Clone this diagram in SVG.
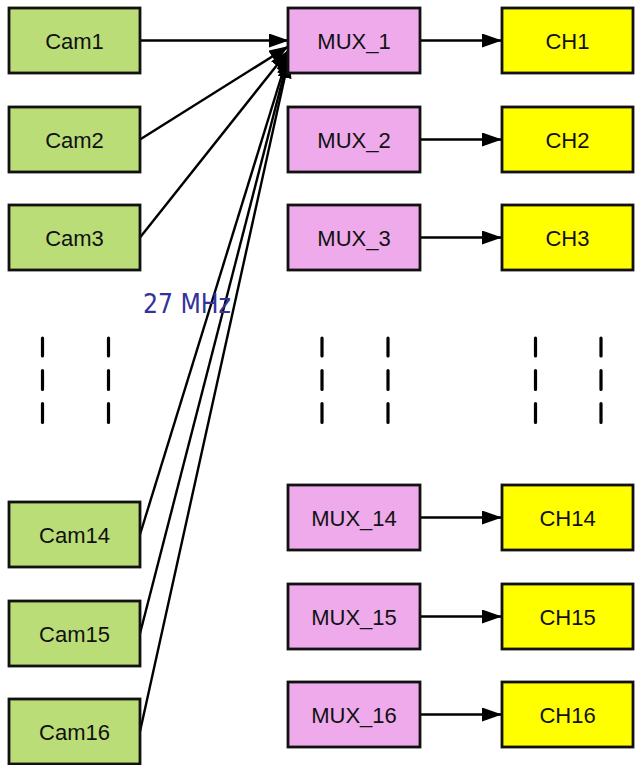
<svg xmlns="http://www.w3.org/2000/svg" width="635" height="765" viewBox="0 0 635 765">
<style>
.box{stroke:#111;stroke-width:2.8}
.cam{fill:#bbdd77}
.mux{fill:#eeaaea}
.ch{fill:#ffff00}
.lbl{font-family:"Liberation Sans",Arial,sans-serif;font-size:22px;fill:#111;text-anchor:middle}
.con{stroke:#000;stroke-width:2.4;fill:none;marker-end:url(#ah)}
.dash{stroke:#000;stroke-width:3.2;stroke-linecap:round}
.freq{font-family:"DejaVu Sans Condensed","DejaVu Sans",sans-serif;font-size:27px;fill:#333399}
</style>
<defs>
<marker id="ah" markerUnits="userSpaceOnUse" markerWidth="21" markerHeight="14" refX="20" refY="7" orient="auto">
<path d="M0,0 L20,7 L0,14 z" fill="#000"/>
</marker>
</defs>
<rect width="635" height="765" fill="#fff"/>
<g id="connectors">
<line class="con" x1="140" y1="40.5" x2="289" y2="40.5"/>
<line class="con" x1="140" y1="139.5" x2="289" y2="46"/>
<line class="con" x1="140" y1="237.5" x2="289" y2="50"/>
<line class="con" x1="140" y1="534.5" x2="289" y2="52"/>
<line class="con" x1="140" y1="633.5" x2="289" y2="55"/>
<line class="con" x1="140" y1="731.5" x2="289" y2="58"/>
<line class="con" x1="420" y1="40.5" x2="502" y2="40.5"/>
<line class="con" x1="420" y1="139.5" x2="502" y2="139.5"/>
<line class="con" x1="420" y1="237.5" x2="502" y2="237.5"/>
<line class="con" x1="420" y1="517.5" x2="502" y2="517.5"/>
<line class="con" x1="420" y1="616.5" x2="502" y2="616.5"/>
<line class="con" x1="420" y1="714.5" x2="502" y2="714.5"/>
</g>
<g id="cam1"><rect class="box cam" x="9" y="8" width="131" height="65"/><text class="lbl" x="74.5" y="48.5">Cam1</text></g>
<g id="cam2"><rect class="box cam" x="9" y="107" width="131" height="65"/><text class="lbl" x="74.5" y="147.5">Cam2</text></g>
<g id="cam3"><rect class="box cam" x="9" y="205" width="131" height="65"/><text class="lbl" x="74.5" y="245.5">Cam3</text></g>
<g id="cam14"><rect class="box cam" x="9" y="502" width="131" height="65"/><text class="lbl" x="74.5" y="542.5">Cam14</text></g>
<g id="cam15"><rect class="box cam" x="9" y="601" width="131" height="65"/><text class="lbl" x="74.5" y="641.5">Cam15</text></g>
<g id="cam16"><rect class="box cam" x="9" y="699" width="131" height="65"/><text class="lbl" x="74.5" y="739.5">Cam16</text></g>
<g id="mux1"><rect class="box mux" x="288" y="8" width="132" height="65"/><text class="lbl" x="354" y="48.5">MUX_1</text></g>
<g id="mux2"><rect class="box mux" x="288" y="107" width="132" height="65"/><text class="lbl" x="354" y="147.5">MUX_2</text></g>
<g id="mux3"><rect class="box mux" x="288" y="205" width="132" height="65"/><text class="lbl" x="354" y="245.5">MUX_3</text></g>
<g id="mux14"><rect class="box mux" x="288" y="485" width="132" height="65"/><text class="lbl" x="354" y="525.5">MUX_14</text></g>
<g id="mux15"><rect class="box mux" x="288" y="584" width="132" height="65"/><text class="lbl" x="354" y="624.5">MUX_15</text></g>
<g id="mux16"><rect class="box mux" x="288" y="682" width="132" height="65"/><text class="lbl" x="354" y="722.5">MUX_16</text></g>
<g id="ch1"><rect class="box ch" x="502" y="8" width="131" height="65"/><text class="lbl" x="567.5" y="48.5">CH1</text></g>
<g id="ch2"><rect class="box ch" x="502" y="107" width="131" height="65"/><text class="lbl" x="567.5" y="147.5">CH2</text></g>
<g id="ch3"><rect class="box ch" x="502" y="205" width="131" height="65"/><text class="lbl" x="567.5" y="245.5">CH3</text></g>
<g id="ch14"><rect class="box ch" x="502" y="485" width="131" height="65"/><text class="lbl" x="567.5" y="525.5">CH14</text></g>
<g id="ch15"><rect class="box ch" x="502" y="584" width="131" height="65"/><text class="lbl" x="567.5" y="624.5">CH15</text></g>
<g id="ch16"><rect class="box ch" x="502" y="682" width="131" height="65"/><text class="lbl" x="567.5" y="722.5">CH16</text></g>
<g id="ellipsis">
<path class="dash" d="M42.5,338 V356 M42.5,370.5 V389.5 M42.5,403.5 V422.5 M108.5,338 V356 M108.5,370.5 V389.5 M108.5,403.5 V422.5 M322,338 V356 M322,370.5 V389.5 M322,403.5 V422.5 M388,338 V356 M388,370.5 V389.5 M388,403.5 V422.5 M535.5,338 V356 M535.5,370.5 V389.5 M535.5,403.5 V422.5 M601,338 V356 M601,370.5 V389.5 M601,403.5 V422.5"/>
</g>
<text class="freq" x="143" y="313" textLength="88" lengthAdjust="spacingAndGlyphs">27 MHz</text>
</svg>
